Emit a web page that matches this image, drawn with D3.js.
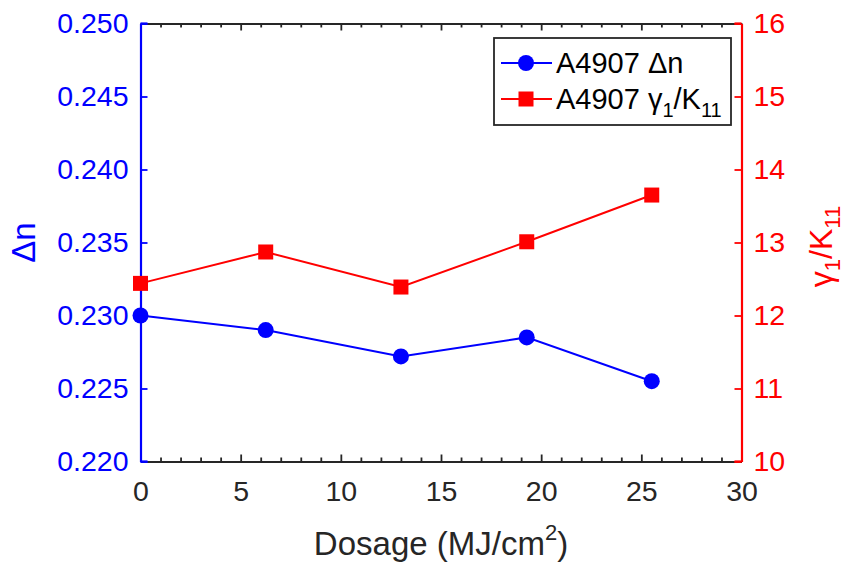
<!DOCTYPE html>
<html><head><meta charset="utf-8">
<script src="https://cdn.jsdelivr.net/npm/d3@7"></script>
<style>
body{margin:0;background:#fff;}
svg{display:block;font-family:"Liberation Sans",Arial,Helvetica,sans-serif;}
</style></head>
<body><svg id="c" width="845" height="563"></svg>
<script>
const dosage = [0, 6.25, 13.0, 19.28, 25.52];
const deltaN = [0.2300, 0.2290, 0.2272, 0.2285, 0.2255];
const gammaK = [12.44, 12.87, 12.39, 13.01, 13.65];
const xTicks = [0, 5, 10, 15, 20, 25, 30];
const leftTicks = [0.220, 0.225, 0.230, 0.235, 0.240, 0.245, 0.250];
const rightTicks = [10, 11, 12, 13, 14, 15, 16];

const W = 845, H = 563;
const m = {l: 140.5, r: 741.5, t: 23.5, b: 461.5};
const svg = d3.select("#c");
const blue = "#0000ff", red = "#ff0000", dark = "#262626";
const fs = 28.5;

const x = d3.scaleLinear().domain([0, 30]).range([m.l, m.r]);
const yL = d3.scaleLinear().domain([0.220, 0.250]).range([m.b, m.t]);
const yR = d3.scaleLinear().domain([10, 16]).range([m.b, m.t]);

function styleAxis(g, color, sw) {
  g.select(".domain").attr("stroke", color).attr("stroke-width", sw);
  g.selectAll(".tick line").attr("stroke", color).attr("stroke-width", 1.8);
  g.selectAll(".tick text").attr("fill", color).attr("font-size", fs)
    .attr("font-family", "'Liberation Sans', Arial, sans-serif");
}

// minor ticks on x (bottom & top)
const minor = d3.range(0, 31, 1).filter(v => v % 5 !== 0);
const gBotMinor = svg.append("g").attr("transform", `translate(0,${m.b})`)
  .call(d3.axisTop(x).tickValues(minor).tickSize(4).tickFormat(""));
gBotMinor.select(".domain").remove();
gBotMinor.selectAll("line").attr("stroke", dark).attr("stroke-width", 1.8);
const gTopMinor = svg.append("g").attr("transform", `translate(0,${m.t})`)
  .call(d3.axisBottom(x).tickValues(minor).tickSize(4).tickFormat(""));
gTopMinor.select(".domain").remove();
gTopMinor.selectAll("line").attr("stroke", dark).attr("stroke-width", 1.8);

// top axis
const gTop = svg.append("g").attr("transform", `translate(0,${m.t})`)
  .call(d3.axisBottom(x).tickValues(xTicks).tickSizeInner(7).tickSizeOuter(0).tickFormat(""));
styleAxis(gTop, dark, 2.2);

// bottom axis
const gBot = svg.append("g").attr("transform", `translate(0,${m.b})`)
  .call(d3.axisBottom(x).tickValues(xTicks).tickSizeInner(0).tickSizeOuter(0).tickPadding(19).tickFormat(d3.format("d")));
styleAxis(gBot, dark, 2.2);
gBot.selectAll(".tick").append("line").attr("y2", -7).attr("stroke", dark).attr("stroke-width", 1.8);

// left axis
const gL = svg.append("g").attr("transform", `translate(${m.l},0)`)
  .call(d3.axisLeft(yL).tickValues(leftTicks).tickSizeInner(0).tickSizeOuter(0).tickPadding(12).tickFormat(d3.format(".3f")));
styleAxis(gL, blue, 2.2);
gL.selectAll(".tick").append("line").attr("x2", 7).attr("stroke", blue).attr("stroke-width", 1.8);

// right axis
const gR = svg.append("g").attr("transform", `translate(${m.r},0)`)
  .call(d3.axisRight(yR).tickValues(rightTicks).tickSizeInner(0).tickSizeOuter(0).tickPadding(12).tickFormat(d3.format("d")));
styleAxis(gR, red, 2.2);
gR.selectAll(".tick").append("line").attr("x2", -7).attr("stroke", red).attr("stroke-width", 1.8);

// small corner segments
svg.append("line").attr("x1", m.l).attr("x2", m.l + 7).attr("y1", m.b).attr("y2", m.b).attr("stroke", blue).attr("stroke-width", 2.2);
svg.append("line").attr("x1", m.l).attr("x2", m.l + 7).attr("y1", m.t).attr("y2", m.t).attr("stroke", blue).attr("stroke-width", 2.2);
svg.append("line").attr("x1", m.r - 7).attr("x2", m.r).attr("y1", m.b).attr("y2", m.b).attr("stroke", red).attr("stroke-width", 2.2);
svg.append("line").attr("x1", m.r - 7).attr("x2", m.r).attr("y1", m.t).attr("y2", m.t).attr("stroke", red).attr("stroke-width", 2.2);

// series
const dn = dosage.map((d, i) => [d, deltaN[i]]);
const gk = dosage.map((d, i) => [d, gammaK[i]]);
svg.append("path").datum(dn).attr("fill", "none").attr("stroke", blue).attr("stroke-width", 2)
  .attr("d", d3.line().x(d => x(d[0])).y(d => yL(d[1])));
svg.append("path").datum(gk).attr("fill", "none").attr("stroke", red).attr("stroke-width", 2)
  .attr("d", d3.line().x(d => x(d[0])).y(d => yR(d[1])));
svg.selectAll(".c").data(dn).enter().append("circle")
  .attr("cx", d => x(d[0])).attr("cy", d => yL(d[1])).attr("r", 8).attr("fill", blue);
const sq = 15;
svg.selectAll(".s").data(gk).enter().append("rect")
  .attr("x", d => x(d[0]) - sq / 2).attr("y", d => yR(d[1]) - sq / 2)
  .attr("width", sq).attr("height", sq).attr("fill", red);

// axis labels
const xl = svg.append("text").attr("x", 441).attr("y", 555).attr("text-anchor", "middle")
  .attr("font-size", 33).attr("fill", dark);
xl.append("tspan").text("Dosage (MJ/cm");
xl.append("tspan").text("2").attr("font-size", 22).attr("dy", -15);
xl.append("tspan").text(")").attr("dy", 15);

svg.append("text").attr("transform", `translate(35,${(m.t + m.b) / 2}) rotate(-90)`)
  .attr("text-anchor", "middle").attr("font-size", 33).attr("fill", blue).text("Δn");

const yr = svg.append("text").attr("transform", `translate(832,${(m.t + m.b) / 2 + 4}) rotate(-90)`)
  .attr("text-anchor", "middle").attr("font-size", 32).attr("fill", red);
yr.append("tspan").text("γ");
yr.append("tspan").text("1").attr("font-size", 22).attr("dy", 8);
yr.append("tspan").text("/K").attr("dy", -8);
yr.append("tspan").text("11").attr("font-size", 22).attr("dy", 8);

// legend
const lg = svg.append("g");
lg.append("rect").attr("x", 494).attr("y", 38).attr("width", 237).attr("height", 87)
  .attr("fill", "#fff").attr("stroke", dark).attr("stroke-width", 1.8);
const rows = [63, 99];
lg.append("line").attr("x1", 501).attr("x2", 552).attr("y1", rows[0]).attr("y2", rows[0]).attr("stroke", blue).attr("stroke-width", 2);
lg.append("circle").attr("cx", 526).attr("cy", rows[0]).attr("r", 8).attr("fill", blue);
lg.append("line").attr("x1", 501).attr("x2", 552).attr("y1", rows[1]).attr("y2", rows[1]).attr("stroke", red).attr("stroke-width", 2);
lg.append("rect").attr("x", 526 - sq / 2).attr("y", rows[1] - sq / 2).attr("width", sq).attr("height", sq).attr("fill", red);
lg.append("text").attr("x", 556).attr("y", rows[0] + 10).attr("font-size", 29).attr("fill", "#000").text("A4907 Δn");
const t2 = lg.append("text").attr("x", 556).attr("y", rows[1] + 10).attr("font-size", 29).attr("fill", "#000");
t2.append("tspan").text("A4907 γ");
t2.append("tspan").text("1").attr("font-size", 20).attr("dy", 8);
t2.append("tspan").text("/K").attr("dy", -8);
t2.append("tspan").text("11").attr("font-size", 20).attr("dy", 8);
</script></body></html>
